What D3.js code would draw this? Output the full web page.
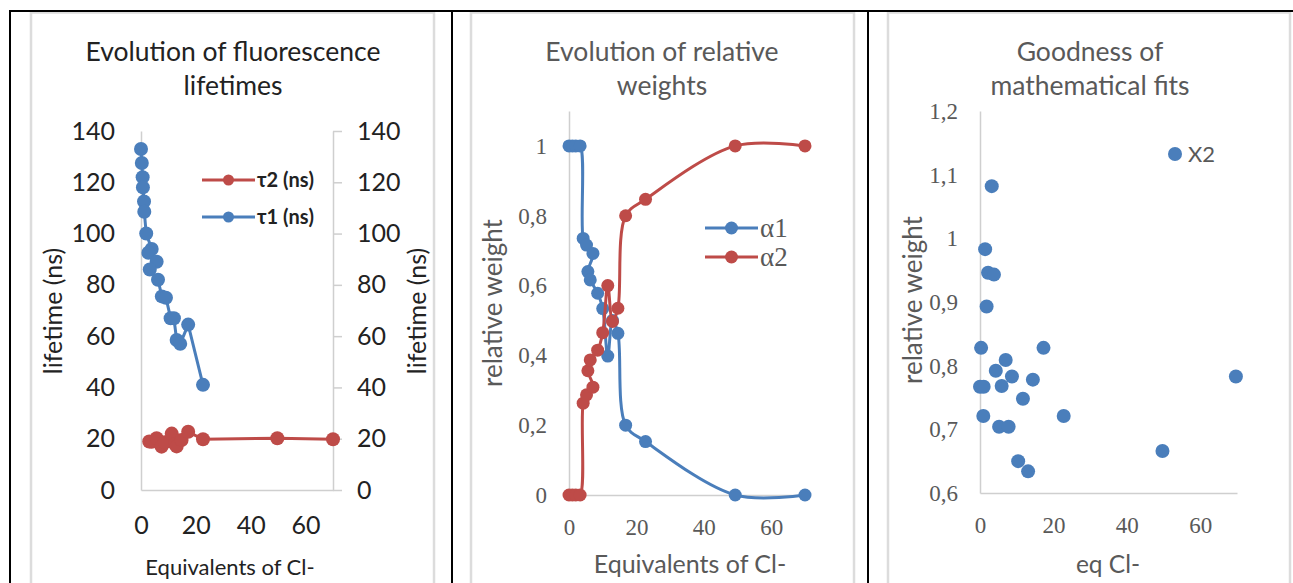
<!DOCTYPE html>
<html>
<head>
<meta charset="utf-8">
<script src="https://cdn.jsdelivr.net/npm/d3@7"></script>
<style>
  html, body { margin: 0; padding: 0; background: #fff; }
  svg { display: block; }
</style>
</head>
<body>
<svg id="chart" width="1293" height="583"></svg>
<script>
// ---------- DATA ----------
// Panel 1: fluorescence lifetimes (ns) vs equivalents of Cl-
const tau1Eq = [0, 0.3, 0.6, 0.7, 1.1, 1.2, 1.9, 3.9, 2.7, 5.7, 3.2, 6.2, 7.6, 9.1, 10.8, 12, 13, 14.3, 17.2, 22.6];
const tau1   = [133, 127.5, 122, 118, 112.5, 108.5, 100, 94, 92.5, 89, 86, 82, 75.5, 75, 67, 67, 58.5, 57, 64.5, 41];
const tau2Eq = [3.0, 3.9, 5.7, 7.5, 8.7, 11.2, 12.4, 13, 14.8, 17.2, 22.6, 49.7, 70];
const tau2   = [18.9, 18.8, 20.2, 16.9, 18.6, 22, 17.9, 17, 19.5, 22.7, 19.8, 20.2, 19.8];
const lifeTicks = [0, 20, 40, 60, 80, 100, 120, 140];
const eqTicks = [0, 20, 40, 60];

// Panel 2: relative weights
const alphaEq = [0, 1, 2, 3.3, 4.2, 5.2, 7.1, 5.6, 6.3, 8.5, 10, 11.5, 12.9, 14.5, 16.8, 22.7, 49.3, 70];
const alpha1  = [1, 1, 1, 1, 0.735, 0.716, 0.692, 0.64, 0.616, 0.578, 0.534, 0.398, 0.5, 0.463, 0.2, 0.153, 0, 0];
const alpha2  = [0, 0, 0, 0, 0.263, 0.287, 0.309, 0.356, 0.387, 0.415, 0.465, 0.6, 0.497, 0.535, 0.8, 0.847, 1, 1];
const weightTicks = [0, 0.2, 0.4, 0.6, 0.8, 1];

// Panel 3: goodness of fit (X2)
const x2Eq = [3.2, 1.4, 2.2, 3.8, 1.8, 0.3, 17.3, 7.0, 4.3, 8.7, 0, 1, 5.9, 14.4, 11.7, 0.9, 22.8, 5.2, 7.8, 10.4, 13.1, 49.7, 69.7];
const x2   = [1.082, 0.983, 0.946, 0.943, 0.893, 0.828, 0.828, 0.809, 0.792, 0.783, 0.767, 0.767, 0.768, 0.778, 0.748, 0.721, 0.721, 0.704, 0.704, 0.650, 0.634, 0.666, 0.783];
const fitTicks = [0.6, 0.7, 0.8, 0.9, 1, 1.1, 1.2];

// ---------- STYLE ----------
const BLUE = "#4a7ebb", RED = "#be4b48";
const AXIS = "#cfcfcf";
const DARK = "#222222", GREY = "#595959";
const SANS = "Lato, 'Open Sans', sans-serif";
const SERIF = "'Liberation Serif', 'DejaVu Serif', serif";
const comma = d => String(d).replace(".", ",");

const svg = d3.select("#chart");
svg.append("rect").attr("width", 1293).attr("height", 583).attr("fill", "#fff");

// chart area borders (light grey)
[[31, 434], [471, 854], [888, 1290]].forEach(([a, b]) => {
  svg.append("rect").attr("x", a).attr("y", 12.5).attr("width", b - a).attr("height", 600)
    .attr("fill", "none").attr("stroke", "#dcdcdc").attr("stroke-width", 2.5);
});
// black table lines
svg.append("line").attr("x1", 9).attr("x2", 1293).attr("y1", 11).attr("y2", 11).attr("stroke", "#000").attr("stroke-width", 2);
[10, 452, 868].forEach(x => svg.append("line").attr("x1", x).attr("x2", x).attr("y1", 10).attr("y2", 583).attr("stroke", "#000").attr("stroke-width", 2));

function title(lines, cx, color) {
  lines.forEach((t, i) => svg.append("text").attr("x", cx).attr("y", 52 + i * 34).attr("dy", "0.35em")
    .attr("text-anchor", "middle").attr("font-family", SANS).attr("font-size", 26.5).attr("fill", color).text(t));
}
function vtitle(t, x, y, size, color) {
  svg.append("text").attr("transform", `translate(${x},${y}) rotate(-90)`).attr("dy", "0.35em")
    .attr("text-anchor", "middle").attr("font-family", SANS).attr("font-size", size).attr("fill", color).text(t);
}
function htitle(t, x, y, size, color) {
  svg.append("text").attr("x", x).attr("y", y).attr("dy", "0.35em")
    .attr("text-anchor", "middle").attr("font-family", SANS).attr("font-size", size).attr("fill", color).text(t);
}
function styleAxis(g, font, size, color) {
  g.select(".domain").attr("stroke", AXIS).attr("stroke-width", 1.5);
  g.selectAll(".tick line").attr("stroke", AXIS).attr("stroke-width", 1.5);
  g.selectAll(".tick text").attr("font-family", font).attr("font-size", size).attr("fill", color);
}

// ---------- PANEL 1 ----------
const x1 = d3.scaleLinear([0, 70], [141, 333]);
const y1 = d3.scaleLinear([0, 140], [490, 131]);
styleAxis(svg.append("g").attr("transform", "translate(0,490)")
  .call(d3.axisBottom(x1).tickValues(eqTicks).tickSize(0).tickSizeOuter(0).tickPadding(26)), SANS, 25, DARK);
styleAxis(svg.append("g").attr("transform", "translate(141,0)")
  .call(d3.axisLeft(y1).tickValues(lifeTicks).tickSize(0).tickSizeOuter(0).tickPadding(26)), SANS, 25, DARK);
styleAxis(svg.append("g").attr("transform", "translate(333,0)")
  .call(d3.axisRight(y1).tickValues(lifeTicks).tickSize(9).tickSizeOuter(0).tickPadding(15)), SANS, 25, DARK);
title(["Evolution of fluorescence", "lifetimes"], 233, DARK);
vtitle("lifetime (ns)", 53, 311, 25, DARK);
vtitle("lifetime (ns)", 417, 311, 25, DARK);
htitle("Equivalents of Cl-", 230, 567, 22, DARK);

function series(xs, ys, xS, yS, color, r, width, curve) {
  const pts = xs.map((x, i) => [xS(x), yS(ys[i])]);
  svg.append("path").attr("d", d3.line().curve(curve)(pts)).attr("fill", "none")
    .attr("stroke", color).attr("stroke-width", width).attr("stroke-linejoin", "round");
  svg.append("g").selectAll("circle").data(pts).join("circle")
    .attr("cx", d => d[0]).attr("cy", d => d[1]).attr("r", r).attr("fill", color);
}
series(tau1Eq, tau1, x1, y1, BLUE, 7, 3, d3.curveLinear);
series(tau2Eq, tau2, x1, y1, RED, 7, 3, d3.curveLinear);

function legendRow(x0, x1e, y, color, r, label, font, size, textColor, weight) {
  svg.append("line").attr("x1", x0).attr("x2", x1e).attr("y1", y).attr("y2", y).attr("stroke", color).attr("stroke-width", 3);
  svg.append("circle").attr("cx", (x0 + x1e) / 2).attr("cy", y).attr("r", r).attr("fill", color);
  svg.append("text").attr("x", x1e + 2).attr("y", y).attr("dy", "0.35em").attr("font-family", font)
    .attr("font-size", size).attr("font-weight", weight || "normal").attr("fill", textColor).text(label);
}
legendRow(202, 255, 180, RED, 5.5, "τ2 (ns)", SANS, 20, DARK, "bold");
legendRow(202, 255, 217, BLUE, 5.5, "τ1 (ns)", SANS, 20, DARK, "bold");

// ---------- PANEL 2 ----------
const x2s = d3.scaleLinear([0, 70], [569, 805]);
const y2s = d3.scaleLinear([0, 1.1], [495, 111]);
styleAxis(svg.append("g").attr("transform", "translate(0,495)")
  .call(d3.axisBottom(x2s).tickValues(eqTicks).tickSize(0).tickSizeOuter(0).tickPadding(24)), SERIF, 23, GREY);
styleAxis(svg.append("g").attr("transform", "translate(569,0)")
  .call(d3.axisLeft(y2s).tickValues(weightTicks).tickFormat(comma).tickSize(0).tickSizeOuter(0).tickPadding(22)), SERIF, 23, GREY);
title(["Evolution of relative", "weights"], 662, GREY);
vtitle("relative weight", 493, 303, 26, GREY);
htitle("Equivalents of Cl-", 690, 564, 25, GREY);
const smooth = d3.curveCatmullRom.alpha(0.5);
series(alphaEq, alpha1, x2s, y2s, BLUE, 6.5, 3, smooth);
series(alphaEq, alpha2, x2s, y2s, RED, 6.5, 3, smooth);
legendRow(705, 758, 228, BLUE, 6.5, "α1", SERIF, 27, GREY);
legendRow(705, 758, 257, RED, 6.5, "α2", SERIF, 27, GREY);

// ---------- PANEL 3 ----------
const x3s = d3.scaleLinear([0, 70], [980, 1237]);
const y3s = d3.scaleLinear([0.6, 1.2], [493, 111]);
styleAxis(svg.append("g").attr("transform", "translate(0,493)")
  .call(d3.axisBottom(x3s).tickValues(eqTicks).tickSize(0).tickSizeOuter(0).tickPadding(24)), SERIF, 23, GREY);
styleAxis(svg.append("g").attr("transform", "translate(980,0)")
  .call(d3.axisLeft(y3s).tickValues(fitTicks).tickFormat(comma).tickSize(0).tickSizeOuter(0).tickPadding(22)), SERIF, 23, GREY);
title(["Goodness of", "mathematical fits"], 1090, GREY);
vtitle("relative weight", 913, 300, 26, GREY);
htitle("eq Cl-", 1108, 564, 24.5, GREY);
svg.append("g").selectAll("circle").data(x2Eq.map((x, i) => [x3s(x), y3s(x2[i])])).join("circle")
  .attr("cx", d => d[0]).attr("cy", d => d[1]).attr("r", 7).attr("fill", BLUE);
svg.append("circle").attr("cx", 1175).attr("cy", 154).attr("r", 7).attr("fill", BLUE);
svg.append("text").attr("x", 1188).attr("y", 154).attr("dy", "0.35em").attr("font-family", SANS)
  .attr("font-size", 22).attr("fill", GREY).text("X2");
</script>
</body>
</html>
